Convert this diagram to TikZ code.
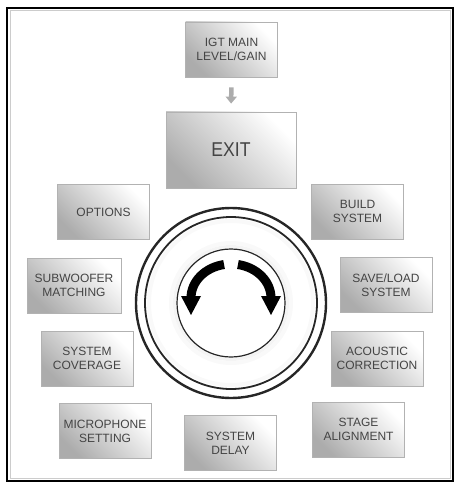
\documentclass[tikz,border=0pt]{standalone}
\usepackage{fontspec}
\setmainfont{Liberation Sans}
\usetikzlibrary{arrows.meta}
\definecolor{txt}{HTML}{444444}
\tikzset{
  menubox/.style={draw=gray!60, line width=0.8pt, top color=white, bottom color=gray!65,
    shading angle=-45, minimum width=92pt, minimum height=55pt, inner sep=2pt,
    align=center, text=txt, font=\fontsize{12}{14}\selectfont},
  ring/.style={draw=black!85},
}
\begin{document}
\begin{tikzpicture}[x=1pt,y=-1pt]
\useasboundingbox (0,0) rectangle (459,484);
% frame
\draw[gray!40, line width=1pt] (10.5,11) rectangle (450,478);
\draw[black, line width=2pt] (7,8) rectangle (453,481);

% knob
\coordinate (c) at (231,303);
\draw[gray!9, line width=3pt] (c) circle[radius=56.5pt];
\draw[gray!5, line width=4pt] (c) circle[radius=60pt];
\draw[gray!5, line width=4pt] (c) circle[radius=82pt];
\draw[ring, line width=2.4pt] (c) circle[radius=95pt];
\draw[ring, line width=1.8pt] (c) circle[radius=86pt];
\draw[ring, line width=1.2pt] (c) circle[radius=54pt];

% rotation arrows
\coordinate (ac) at (231,298);
\draw[black, line width=9pt] ([shift={(100:40pt and 34pt)}]ac) arc[start angle=100, end angle=180, x radius=40pt, y radius=34pt];
\fill[black] (181,296) -- (201,296) -- (191,315) -- cycle;
\draw[black, line width=9pt] ([shift={(80:40pt and 34pt)}]ac) arc[start angle=80, end angle=0, x radius=40pt, y radius=34pt];
\fill[black] (261,296) -- (281,296) -- (271,315) -- cycle;

% boxes
\node[menubox] (igt) at (231.5,49.5) {IGT MAIN\\LEVEL/GAIN};
\node[menubox, minimum width=130pt, minimum height=76pt, font=\fontsize{20}{22}\selectfont\addfontfeatures{FakeStretch=0.88}] (exit) at (231,150) {EXIT};
\node[menubox] (options) at (103.5,212) {OPTIONS};
\node[menubox, minimum width=94pt] (sub) at (74,285.5) {SUBWOOFER\\MATCHING};
\node[menubox] (cov) at (87,358.5) {SYSTEM\\COVERAGE};
\node[menubox] (mic) at (105,431) {MICROPHONE\\SETTING};
\node[menubox] (delay) at (230.5,443) {SYSTEM\\DELAY};
\node[menubox] (build) at (357.5,211.5) {BUILD\\SYSTEM};
\node[menubox] (save) at (386,285) {SAVE/LOAD\\SYSTEM};
\node[menubox] (acou) at (377,358.5) {ACOUSTIC\\CORRECTION};
\node[menubox] (stage) at (358.5,429.5) {STAGE\\ALIGNMENT};

% small arrow
\draw[gray!65, line width=4.5pt, -{Triangle[width=11pt,length=7pt]}, shorten <=10pt, shorten >=8pt] (igt.south) -- (exit.north);
\end{tikzpicture}
\end{document}
